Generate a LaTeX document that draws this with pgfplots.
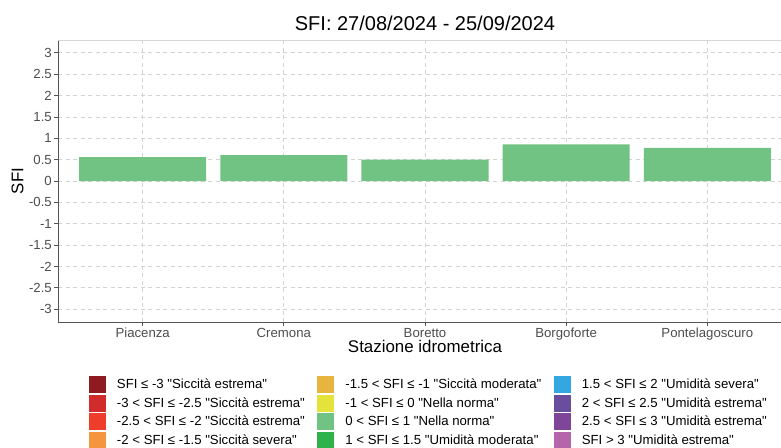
\documentclass[border=0pt]{standalone}
\usepackage{fontspec}
\setmainfont{Liberation Sans}[Ligatures=TeXOff]
\usepackage{pgfplots}
\pgfplotsset{compat=1.18}
\definecolor{barg}{HTML}{71C383}
\definecolor{tickgray}{HTML}{4D4D4D}
\definecolor{axgray}{HTML}{555555}
\definecolor{gridgray}{HTML}{D3D3D3}
\definecolor{topgray}{HTML}{D6D6D6}
\definecolor{c1}{HTML}{8E1B1F}
\definecolor{c2}{HTML}{D12B2B}
\definecolor{c3}{HTML}{EE3D2B}
\definecolor{c4}{HTML}{F5963F}
\definecolor{c5}{HTML}{E8B440}
\definecolor{c6}{HTML}{E3E33B}
\definecolor{c7}{HTML}{71C383}
\definecolor{c8}{HTML}{2EB24B}
\definecolor{c9}{HTML}{33A8E0}
\definecolor{c10}{HTML}{6A4E9E}
\definecolor{c11}{HTML}{7E4599}
\definecolor{c12}{HTML}{B565AC}
\begin{document}
\begin{tikzpicture}
\useasboundingbox (0,0) rectangle (781pt,447pt);
\begin{axis}[
  at={(58pt,125pt)}, anchor=south west,
  scale only axis, width=734pt, height=282pt,
  xmin=0.4, xmax=5.6, ymin=-3.3, ymax=3.3,
  axis x line*=bottom, axis y line*=left,
  axis line style={color=axgray, line width=1pt},
  tick align=outside, major tick length=4pt,
  tick style={color=axgray, line width=0.8pt},
  xtick={1,2,3,4,5},
  xticklabels={Piacenza,Cremona,Boretto,Borgoforte,Pontelagoscuro},
  ytick={-3,-2.5,-2,-1.5,-1,-0.5,0,0.5,1,1.5,2,2.5,3},
  yticklabel={\pgfmathprintnumber[assume math mode=true]{\tick}},
  tick label style={font=\fontsize{13.2}{15}\selectfont, text=tickgray},
  xticklabel style={anchor=north, inner sep=0pt, yshift=-2pt},
  yticklabel style={anchor=east, inner sep=0pt, xshift=-2pt},
  grid=major,
  major grid style={dash pattern=on 4pt off 3.5pt, color=gridgray, line width=0.8pt},
  title={SFI: 27/08/2024 - 25/09/2024},
  title style={at={(axis description cs:0.5,1)}, anchor=base, yshift=4pt, font=\fontsize{20}{24}\selectfont, text=black},
  xlabel={Stazione idrometrica},
  xlabel style={at={(axis description cs:0.5,0)}, anchor=base, yshift=-30pt, font=\fontsize{16.9}{20}\selectfont},
  ylabel={SFI},
  ylabel style={at={(axis description cs:-0.0552,0.5)}, anchor=center, font=\fontsize{16.9}{20}\selectfont},
  extra description/.code={\draw[color=topgray, line width=1pt] (0,1) -- (1,1);},
  legend columns=3,
  legend cell align=left,
  legend image code/.code={\fill[#1] (0pt,-8.5pt) rectangle (17pt,8.5pt);},
  legend style={at={(axis description cs:0.0422,-0.1915)}, anchor=north west,
    draw=none, fill=none, inner sep=0pt, outer sep=0pt,
    font=\fontsize{13.2}{15}\selectfont,
    nodes={inner sep=0pt},
    row sep=1.5pt,
    /tikz/every odd column/.append style={column sep=11pt},
    /tikz/every even column/.append style={column sep=12.5pt}},
]
\addplot[ybar, bar width=0.9, fill=barg, draw=none, forget plot]
  coordinates {(1,0.56) (2,0.605) (3,0.50) (4,0.86) (5,0.775)};

\addlegendimage{fill=c1, draw=none}\addlegendentry{SFI ≤ -3 "Siccità estrema"}
\addlegendimage{fill=c5, draw=none}\addlegendentry{-1.5 < SFI ≤ -1 "Siccità moderata"}
\addlegendimage{fill=c9, draw=none}\addlegendentry{1.5 < SFI ≤ 2 "Umidità severa"}
\addlegendimage{fill=c2, draw=none}\addlegendentry{-3 < SFI ≤ -2.5 "Siccità estrema"}
\addlegendimage{fill=c6, draw=none}\addlegendentry{-1 < SFI ≤ 0 "Nella norma"}
\addlegendimage{fill=c10, draw=none}\addlegendentry{2 < SFI ≤ 2.5 "Umidità estrema"}
\addlegendimage{fill=c3, draw=none}\addlegendentry{-2.5 < SFI ≤ -2 "Siccità estrema"}
\addlegendimage{fill=c7, draw=none}\addlegendentry{0 < SFI ≤ 1 "Nella norma"}
\addlegendimage{fill=c11, draw=none}\addlegendentry{2.5 < SFI ≤ 3 "Umidità estrema"}
\addlegendimage{fill=c4, draw=none}\addlegendentry{-2 < SFI ≤ -1.5 "Siccità severa"}
\addlegendimage{fill=c8, draw=none}\addlegendentry{1 < SFI ≤ 1.5 "Umidità moderata"}
\addlegendimage{fill=c12, draw=none}\addlegendentry{SFI > 3 "Umidità estrema"}
\end{axis}
\end{tikzpicture}
\end{document}
